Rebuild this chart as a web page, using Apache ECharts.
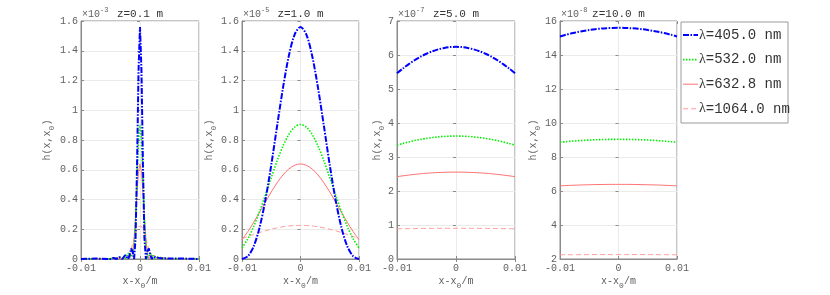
<!DOCTYPE html>
<html><head><meta charset="utf-8">
<script src="https://cdn.jsdelivr.net/npm/echarts/dist/echarts.min.js"></script>
<style>html,body{margin:0;padding:0;background:#fff}#c{width:830px;height:295px}</style>
</head><body><div id="c"></div>
<script>
// ---------- data ----------
const lambdaNames = ['405.0 nm', '532.0 nm', '632.8 nm', '1064.0 nm'];
const panelTitles = ['z=0.1 m', 'z=1.0 m', 'z=5.0 m', 'z=10.0 m'];
const panelExponents = ['-3', '-5', '-7', '-8'];
const yMins = [0, 0, 0, 2];
const yMaxs = [1.6, 1.6, 7, 16];
const yIntervals = [0.2, 0.2, 1, 2];
const xMin = -0.01, xMax = 0.01, xInterval = 0.01;

// x positions (m) for z = 0.1 m panel
const xFine = [-0.01, -0.0075, -0.005, -0.00475, -0.0045, -0.00425, -0.004, -0.00375, -0.0035, -0.00325, -0.003,
  -0.00275, -0.0025, -0.00225, -0.002, -0.00175, -0.0015, -0.00125, -0.001, -0.00075, -0.0005, -0.00025, 0,
  0.00025, 0.0005, 0.00075, 0.001, 0.00125, 0.0015, 0.00175, 0.002, 0.00225, 0.0025, 0.00275, 0.003,
  0.00325, 0.0035, 0.00375, 0.004, 0.00425, 0.0045, 0.00475, 0.005, 0.0075, 0.01];
// x positions (m) for the other panels
const xCoarse = [-0.01, -0.009, -0.008, -0.007, -0.006, -0.005, -0.004, -0.003, -0.002, -0.001, 0,
  0.001, 0.002, 0.003, 0.004, 0.005, 0.006, 0.007, 0.008, 0.009, 0.01];

// z = 0.1 m  (x 1e-3)
const z01_405 = [0, 0.003, 0, 0.0035, 0.0078, 0.0044, 0, 0.0056, 0.0129, 0.0075, 0, 0.0105, 0.0253, 0.0156, 0, 0.0258, 0.0702, 0.0505, 0, 0.141, 0.632, 1.265, 1.56, 1.265, 0.632, 0.141, 0, 0.0505, 0.0702, 0.0258, 0, 0.0156, 0.0253, 0.0105, 0, 0.0075, 0.0129, 0.0056, 0, 0.0044, 0.0078, 0.0035, 0, 0.003, 0];
const z01_532 = [0.0014, 0.0018, 0.0021, 0.0061, 0.0074, 0.0040, 0.0002, 0.0022, 0.0097, 0.0149, 0.0106, 0.0018, 0.0023, 0.0190, 0.0393, 0.0387, 0.0131, 0.0023, 0.0736, 0.267, 0.547, 0.801, 0.904, 0.801, 0.547, 0.267, 0.0736, 0.0023, 0.0131, 0.0387, 0.0393, 0.0190, 0.0023, 0.0018, 0.0106, 0.0149, 0.0097, 0.0022, 0.0002, 0.0040, 0.0074, 0.0061, 0.0021, 0.0018, 0.0014];
const z01_633 = [0.0014, 0.0010, 0.0022, 0.0001, 0.0011, 0.0052, 0.0095, 0.0102, 0.0060, 0.0009, 0.0011, 0.0098, 0.0229, 0.0302, 0.0235, 0.0070, 0.0011, 0.0350, 0.1294, 0.280, 0.451, 0.587, 0.639, 0.587, 0.451, 0.280, 0.1294, 0.0350, 0.0011, 0.0070, 0.0235, 0.0302, 0.0229, 0.0098, 0.0011, 0.0009, 0.0060, 0.0102, 0.0095, 0.0052, 0.0011, 0.0001, 0.0022, 0.0010, 0.0014];
const z01_1064 = [0.0005, 0.0005, 0.0006, 0.0023, 0.0047, 0.0076, 0.0098, 0.0107, 0.0097, 0.0069, 0.0033, 0.0004, 0.0006, 0.0060, 0.0184, 0.0388, 0.0668, 0.1005, 0.1368, 0.1716, 0.2003, 0.2194, 0.226, 0.2194, 0.2003, 0.1716, 0.1368, 0.1005, 0.0668, 0.0388, 0.0184, 0.0060, 0.0006, 0.0004, 0.0033, 0.0069, 0.0097, 0.0107, 0.0098, 0.0076, 0.0047, 0.0023, 0.0006, 0.0005, 0.0005];

// z = 1.0 m  (x 1e-5)
const z1_405 = [0, 0.0186, 0.0853, 0.211, 0.397, 0.632, 0.894, 1.149, 1.365, 1.509, 1.56, 1.509, 1.365, 1.149, 0.894, 0.632, 0.397, 0.211, 0.0853, 0.0186, 0];
const z1_532 = [0.0736, 0.136, 0.219, 0.319, 0.431, 0.547, 0.660, 0.759, 0.837, 0.887, 0.904, 0.887, 0.837, 0.759, 0.660, 0.547, 0.431, 0.319, 0.219, 0.136, 0.0736];
const z1_633 = [0.129, 0.184, 0.247, 0.314, 0.383, 0.451, 0.512, 0.565, 0.605, 0.630, 0.639, 0.630, 0.605, 0.565, 0.512, 0.451, 0.383, 0.314, 0.247, 0.184, 0.129];
const z1_1064 = [0.1368, 0.1511, 0.1650, 0.1780, 0.1897, 0.2003, 0.2093, 0.2164, 0.2217, 0.2249, 0.226, 0.2249, 0.2217, 0.2164, 0.2093, 0.2003, 0.1897, 0.1780, 0.1650, 0.1511, 0.1368];

// z = 5.0 m  (x 1e-7)
const z5_405 = [5.461, 5.603, 5.733, 5.848, 5.950, 6.037, 6.110, 6.166, 6.207, 6.232, 6.24, 6.232, 6.207, 6.166, 6.110, 6.037, 5.950, 5.848, 5.733, 5.603, 5.461];
const z5_532 = [3.348, 3.398, 3.443, 3.483, 3.518, 3.548, 3.572, 3.591, 3.605, 3.613, 3.616, 3.613, 3.605, 3.591, 3.572, 3.548, 3.518, 3.483, 3.443, 3.398, 3.348];
const z5_633 = [2.422, 2.446, 2.469, 2.489, 2.507, 2.522, 2.534, 2.544, 2.550, 2.555, 2.556, 2.555, 2.550, 2.544, 2.534, 2.522, 2.507, 2.489, 2.469, 2.446, 2.422];
const z5_1064 = [0.8869, 0.8901, 0.8930, 0.8956, 0.8978, 0.8997, 0.9012, 0.9024, 0.9033, 0.9038, 0.904, 0.9038, 0.9033, 0.9024, 0.9012, 0.8997, 0.8978, 0.8956, 0.8930, 0.8901, 0.8869];

// z = 10.0 m  (x 1e-8)
const z10_405 = [15.093, 15.189, 15.274, 15.350, 15.416, 15.472, 15.518, 15.554, 15.579, 15.595, 15.6, 15.595, 15.579, 15.554, 15.518, 15.472, 15.416, 15.350, 15.274, 15.189, 15.093];
const z10_532 = [8.869, 8.901, 8.930, 8.956, 8.978, 8.997, 9.012, 9.024, 9.033, 9.038, 9.04, 9.038, 9.033, 9.024, 9.012, 8.997, 8.978, 8.956, 8.930, 8.901, 8.869];
const z10_633 = [6.304, 6.320, 6.335, 6.348, 6.359, 6.368, 6.376, 6.382, 6.387, 6.389, 6.39, 6.389, 6.387, 6.382, 6.376, 6.368, 6.359, 6.348, 6.335, 6.320, 6.304];
const z10_1064 = [2.2492, 2.2513, 2.2531, 2.2547, 2.2561, 2.2573, 2.2583, 2.2590, 2.2596, 2.2599, 2.26, 2.2599, 2.2596, 2.2590, 2.2583, 2.2573, 2.2561, 2.2547, 2.2531, 2.2513, 2.2492];

// ---------- layout & styles ----------
const panels = [
  { x: xFine, ys: [z01_405, z01_532, z01_633, z01_1064] },
  { x: xCoarse, ys: [z1_405, z1_532, z1_633, z1_1064] },
  { x: xCoarse, ys: [z5_405, z5_532, z5_633, z5_1064] },
  { x: xCoarse, ys: [z10_405, z10_532, z10_633, z10_1064] }
];
const gridLefts = [81, 242, 397, 560];
const gridWidths = [118, 117, 118, 117];
const gridTop = 21, gridHeight = 240;
const yNameGaps = [25, 24, 11, 18];
const smoothing = [false, 0.3, 0.3, 0.3];
const lineStyles = [
  { color: '#0000ff', width: 2, type: [6, 1.5, 1.5, 1.5] },
  { color: '#00f000', width: 1.6, type: [1.5, 1.5] },
  { color: '#ff7070', width: 1, type: 'solid' },
  { color: '#ff9c9c', width: 1, type: [5, 3] }
];
const MONO = '"Liberation Mono", "DejaVu Sans Mono", monospace';
const AX = '#8a8a8a', TXT = '#606060';

const grid = [], xAxis = [], yAxis = [], series = [], graphic = [];
panels.forEach((p, i) => {
  grid.push({ left: gridLefts[i], top: gridTop, width: gridWidths[i], height: gridHeight,
    show: true, borderColor: AX, borderWidth: 1, backgroundColor: '#fff' });
  xAxis.push({
    gridIndex: i, type: 'value', min: xMin, max: xMax, interval: xInterval, position: 'bottom',
    axisLine: { show: true, onZero: false, lineStyle: { color: AX } },
    axisTick: { show: true, inside: true, length: 3, lineStyle: { color: AX } },
    axisLabel: { color: TXT, fontFamily: MONO, fontSize: 10, margin: 4 },
    splitLine: { show: true, lineStyle: { color: '#ebebeb' } },
    name: '{a|x-x}{s|0}{a|/m}', nameLocation: 'middle', nameGap: 14, nameMoveOverlap: false,
    nameTextStyle: { rich: {
      a: { fontFamily: MONO, fontSize: 10, color: TXT },
      s: { fontFamily: MONO, fontSize: 8, color: TXT, padding: [9, 0, 0, 0] } } }
  });
  xAxis.push({
    gridIndex: i, type: 'value', min: xMin, max: xMax, interval: xInterval, position: 'top',
    axisLine: { show: false }, axisLabel: { show: false }, splitLine: { show: false },
    axisTick: { show: true, inside: true, length: 3, lineStyle: { color: AX } }
  });
  yAxis.push({
    gridIndex: i, type: 'value', min: yMins[i], max: yMaxs[i], interval: yIntervals[i], position: 'left',
    axisLine: { show: true, onZero: false, lineStyle: { color: AX } },
    axisTick: { show: true, inside: true, length: 3, lineStyle: { color: AX } },
    axisLabel: { color: TXT, fontFamily: MONO, fontSize: 10, margin: 3 },
    splitLine: { show: true, lineStyle: { color: '#ebebeb' } },
    name: '{a|h(x,x}{s|0}{a|)}', nameLocation: 'middle', nameRotate: 90, nameGap: yNameGaps[i],
    nameMoveOverlap: false,
    nameTextStyle: { rich: {
      a: { fontFamily: MONO, fontSize: 10, color: TXT },
      s: { fontFamily: MONO, fontSize: 8, color: TXT, padding: [9, 0, 0, 0] } } }
  });
  yAxis.push({
    gridIndex: i, type: 'value', min: yMins[i], max: yMaxs[i], interval: yIntervals[i], position: 'right',
    axisLine: { show: false }, axisLabel: { show: false }, splitLine: { show: false },
    axisTick: { show: true, inside: true, length: 3, lineStyle: { color: AX } }
  });
  p.ys.forEach((ys, k) => {
    series.push({
      type: 'line', name: lambdaNames[k], xAxisIndex: 2 * i, yAxisIndex: 2 * i,
      data: p.x.map((xv, j) => [xv, ys[j]]), showSymbol: false, symbol: 'none',
      smooth: smoothing[i], lineStyle: Object.assign({}, lineStyles[k]), z: 10 - k, silent: true
    });
  });
  const cx = gridLefts[i] + gridWidths[i] / 2;
  graphic.push({ type: 'text', x: cx, y: 14, z: 100,
    style: { text: panelTitles[i], fontFamily: MONO, fontSize: 11, fill: '#333',
      textAlign: 'center', textVerticalAlign: 'middle' } });
  graphic.push({ type: 'text', x: gridLefts[i] + 1, y: 12, z: 100,
    style: { text: '{a|×10}{b|' + panelExponents[i] + '}', textAlign: 'left', textVerticalAlign: 'middle',
      rich: { a: { fontFamily: MONO, fontSize: 10, fill: TXT, color: TXT, padding: [4, 0, 0, 0] },
              b: { fontFamily: MONO, fontSize: 7, fill: TXT, color: TXT, padding: [0, 0, 4, 0] } } } });
});

// legend drawn as graphics
const legX = 681, legY = 22, legW = 107, legH = 101, legRow = 24.6;
graphic.push({ type: 'rect', z: 100, shape: { x: legX, y: legY, width: legW, height: legH },
  style: { fill: '#fff', stroke: '#9a9a9a', lineWidth: 1 } });
lambdaNames.forEach((nm, k) => {
  const yy = legY + 13 + k * legRow;
  const ls = lineStyles[k];
  graphic.push({ type: 'line', z: 101, shape: { x1: legX + 2, y1: yy, x2: legX + 17, y2: yy },
    style: { stroke: ls.color, lineWidth: ls.width, lineDash: Array.isArray(ls.type) ? ls.type : null } });
  graphic.push({ type: 'text', z: 101, x: legX + 18, y: yy,
    style: { text: '{l|λ}{t|=' + nm + '}', textAlign: 'left', textVerticalAlign: 'middle',
      rich: { l: { fontFamily: '"Liberation Serif", serif', fontSize: 14, fill: '#333', color: '#333' },
              t: { fontFamily: MONO, fontSize: 14, fill: '#333', color: '#333' } } } });
});

const chart = echarts.init(document.getElementById('c'), null, { renderer: 'canvas' });
chart.setOption({ animation: false, backgroundColor: '#fff', grid, xAxis, yAxis, series, graphic });
</script></body></html>
